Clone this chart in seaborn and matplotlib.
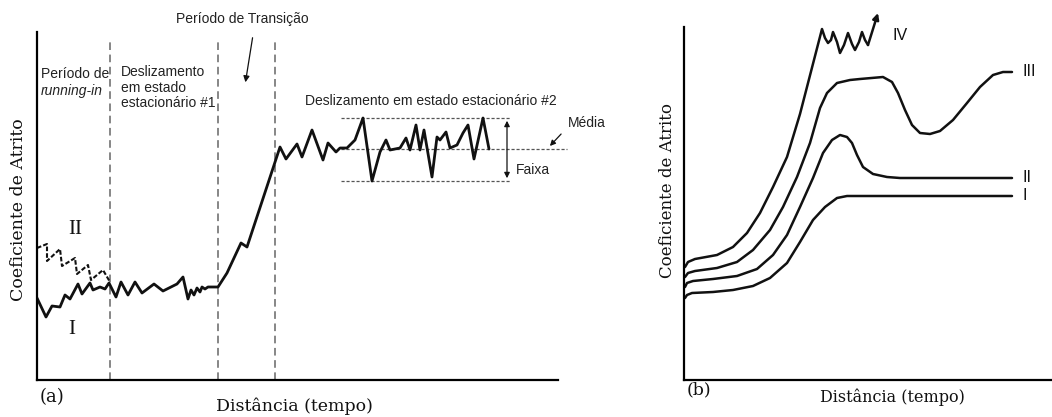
import matplotlib
matplotlib.use("Agg")
import matplotlib.pyplot as plt
import seaborn as sns

# ---- panel (a): friction vs distance ----
a_dist_I = [0, 9, 15, 23, 28, 33, 41, 45, 53, 56, 63, 68, 72, 79, 84, 91, 98, 105, 117, 126,
            140, 146, 151, 154, 157, 160, 163, 165, 168, 171, 181, 190, 204, 210, 243, 249,
            260, 265, 275, 286, 291, 299, 303, 310, 318, 326, 335, 343, 349, 353, 358, 363,
            369, 373, 379, 383, 387, 395, 400, 403, 409, 413, 420, 426, 431, 437, 446, 452]
a_coef_I = [82, 63, 74, 73, 85, 81, 96, 86, 97, 90, 93, 91, 97, 83, 98, 85, 98, 87, 96, 89,
            96, 103, 81, 90, 85, 92, 88, 93, 91, 93, 93, 107, 137, 133, 233, 221,
            236, 223, 250, 220, 237, 228, 232, 232, 240, 262, 199, 228, 240, 230, 231, 232,
            242, 230, 255, 230, 250, 203, 243, 240, 248, 232, 235, 247, 255, 221, 262, 231]
a_dist_II = [0, 10, 10, 23, 25, 38, 40, 51, 54, 66, 73]
a_coef_II = [132, 136, 119, 131, 114, 122, 106, 115, 100, 110, 98]
period_bounds = [73, 181, 238]
band_low, band_mean, band_high = 199, 231, 262

# ---- panel (b): four behaviours ----
b_dist_I = [1, 3, 8, 29, 49, 69, 86, 103, 116, 129, 141, 153, 163, 176, 328]
b_coef_I = [82, 85, 87, 88, 90, 94, 102, 117, 138, 160, 173, 182, 184, 184, 184]
b_dist_II = [1, 3, 9, 29, 53, 73, 89, 103, 116, 129, 139, 148, 156, 163, 168, 173, 179, 189,
             203, 216, 328]
b_coef_II = [93, 97, 99, 101, 104, 111, 125, 145, 173, 202, 227, 240, 245, 243, 237, 225, 213, 206,
             203, 202, 202]
b_dist_III = [1, 4, 11, 33, 53, 69, 86, 99, 113, 126, 136, 143, 153, 166, 176, 199, 208, 214,
              221, 228, 236, 246, 256, 269, 283, 296, 309, 319, 328]
b_coef_III = [103, 107, 109, 112, 118, 130, 150, 173, 203, 237, 272, 287, 297, 300, 301, 303, 298, 287,
              270, 255, 247, 246, 249, 260, 277, 293, 305, 308, 308]
b_dist_IV = [1, 4, 11, 33, 49, 63, 76, 89, 103, 116, 138, 141, 144, 147, 149, 153, 156, 160, 164,
             168, 171, 175, 178, 181, 184]
b_coef_IV = [113, 118, 121, 125, 133, 147, 167, 193, 223, 266, 351, 342, 337, 340, 348, 338, 327, 335, 347,
             336, 330, 338, 348, 340, 335]
b_tip_IV = (194, 367)

sns.set_style("white")
plt.rcParams["font.family"] = ["Liberation Sans", "DejaVu Sans"]
SERIF = ["DejaVu Serif"]
INK = "#111111"
TXT = "#222222"

fig = plt.figure(figsize=(10.52, 4.17), dpi=100)
ax_a = fig.add_axes([37 / 1052, 37 / 417, 521 / 1052, 348 / 417])
ax_b = fig.add_axes([684 / 1052, 37 / 417, 368 / 1052, 353 / 417])

for ax in (ax_a, ax_b):
    for side in ("top", "right"):
        ax.spines[side].set_visible(False)
    for side in ("left", "bottom"):
        ax.spines[side].set_color("black")
        ax.spines[side].set_linewidth(1.6)
    ax.set_xticks([])
    ax.set_yticks([])

# ---- (a) ----
ax_a.set_xlim(0, 521)
ax_a.set_ylim(0, 348)
for xb in period_bounds:
    ax_a.vlines(xb, 0, 340, colors="#666666", linestyles=(0, (5, 3)), linewidth=1.1)
ax_a.hlines([band_low, band_high], 304, 473, colors="#555555", linestyles=(0, (2.5, 1.5)), linewidth=0.9)
ax_a.hlines(band_mean, 304, 530, colors="#555555", linestyles=(0, (2.5, 1.5)), linewidth=0.9, clip_on=False)

sns.lineplot(x=a_dist_II, y=a_coef_II, sort=False, estimator=None, ax=ax_a,
             color=INK, linewidth=1.5, linestyle=(0, (2.2, 1.0)))
sns.lineplot(x=a_dist_I, y=a_coef_I, sort=False, estimator=None, ax=ax_a,
             color=INK, linewidth=2.0)
ax_a.set_xlabel("")
ax_a.set_ylabel("")

ax_a.annotate("", xy=(470, band_high), xytext=(470, band_low),
              arrowprops=dict(arrowstyle="<|-|>", color=INK, lw=0.9, mutation_scale=8))
ax_a.annotate("", xy=(208, 295), xytext=(216, 345), annotation_clip=False,
              arrowprops=dict(arrowstyle="-|>", color=INK, lw=0.9, mutation_scale=9))
ax_a.annotate("", xy=(511, 232), xytext=(526, 248), annotation_clip=False,
              arrowprops=dict(arrowstyle="-|>", color=INK, lw=0.9, mutation_scale=8))

ts = 10
ax_a.text(205, 361, "Período de Transição", ha="center", va="center", fontsize=ts, color=TXT, clip_on=False)
ax_a.text(4, 306, "Período de", ha="left", va="center", fontsize=ts, color=TXT)
ax_a.text(4, 289, "running-in", ha="left", va="center", fontsize=ts, color=TXT, style="italic")
ax_a.text(84, 315, "Deslizamento\nem estado\nestacionário #1", ha="left", va="top",
          fontsize=ts, color=TXT, linespacing=1.15)
ax_a.text(268, 279, "Deslizamento em estado estacionário #2", ha="left", va="center",
          fontsize=ts, color=TXT, clip_on=False)
ax_a.text(531, 257, "Média", ha="left", va="center", fontsize=ts, color=TXT, clip_on=False)
ax_a.text(479, 210, "Faixa", ha="left", va="center", fontsize=ts, color=TXT, clip_on=False)
ax_a.text(38, 150, "II", ha="center", va="center", fontsize=15, family=["Liberation Serif"], color=INK)
ax_a.text(35, 50, "I", ha="center", va="center", fontsize=15, family=["Liberation Serif"], color=INK)
ax_a.text(3, -17, "(a)", ha="left", va="center", fontsize=13, family=SERIF, color=INK, clip_on=False)
ax_a.text(257, -26, "Distância (tempo)", ha="center", va="center", fontsize=12.5, family=SERIF,
          color=INK, clip_on=False)
ax_a.text(-18, 170, "Coeficiente de Atrito", ha="center", va="center", rotation=90, fontsize=12.5,
          family=SERIF, color=INK, clip_on=False)

# ---- (b) ----
ax_b.set_xlim(0, 368)
ax_b.set_ylim(0, 353)
for xs, ys in ((b_dist_I, b_coef_I), (b_dist_II, b_coef_II), (b_dist_III, b_coef_III), (b_dist_IV, b_coef_IV)):
    sns.lineplot(x=xs, y=ys, sort=False, estimator=None, ax=ax_b, color=INK, linewidth=1.8)
ax_b.set_xlabel("")
ax_b.set_ylabel("")
ax_b.annotate("", xy=b_tip_IV, xytext=(b_dist_IV[-1], b_coef_IV[-1]), annotation_clip=False,
              arrowprops=dict(arrowstyle="-|>", color=INK, lw=1.8, mutation_scale=9, shrinkA=0, shrinkB=0))

for lab, (xl, yl) in zip(["I", "II", "III", "IV"],
                         [(339, b_coef_I[-1]), (339, b_coef_II[-1]), (339, b_coef_III[-1]), (209, 345)]):
    ax_b.text(xl, yl, lab, ha="left", va="center", fontsize=11.5, color=INK, clip_on=False)

ax_b.text(3, -10, "(b)", ha="left", va="center", fontsize=12.5, family=SERIF, color=INK, clip_on=False)
ax_b.text(208, -17, "Distância (tempo)", ha="center", va="center", fontsize=11.5, family=SERIF,
          color=INK, clip_on=False)
ax_b.text(-17, 190, "Coeficiente de Atrito", ha="center", va="center", rotation=90, fontsize=12,
          family=SERIF, color=INK, clip_on=False)

fig.savefig("out.png", dpi=100)
